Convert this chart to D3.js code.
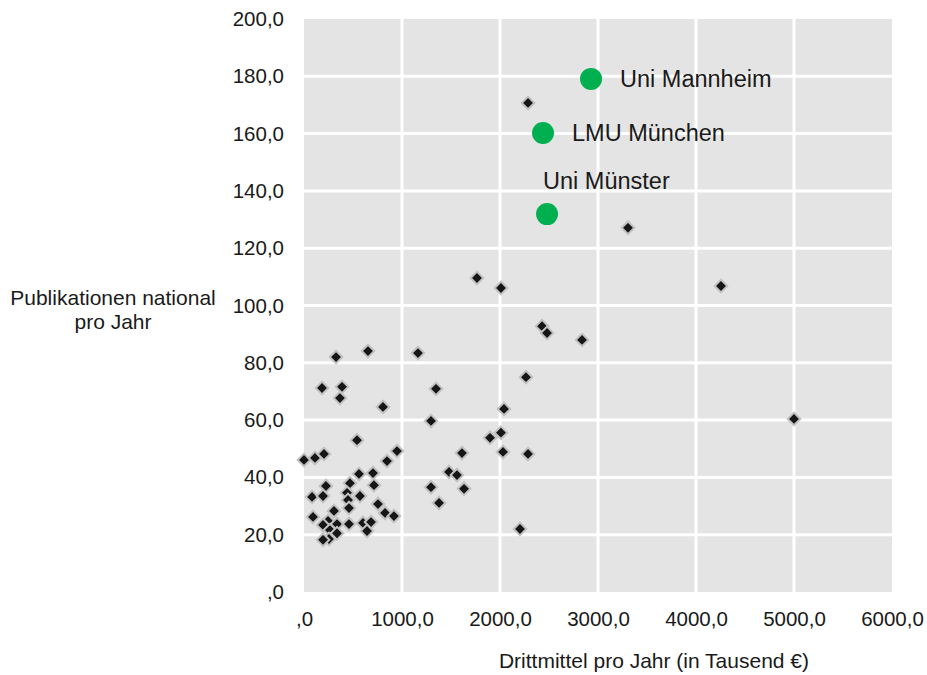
<!DOCTYPE html>
<html>
<head>
<meta charset="utf-8">
<script src="https://cdn.jsdelivr.net/npm/d3@7"></script>
<style>
body { margin: 0; background: #fff; }
text { font-family: "Liberation Sans", Arial, sans-serif; fill: #1a1a1a; }
</style>
</head>
<body>
<div id="chart"></div>
<script>
// Drittmittel (Tausend €) vs. Publikationen national pro Jahr
const drittmittel = [327, 653, 1163, 184, 388, 367, 806, 541, 1296, 1347,
  0, 112, 204, 847, 949, 1612, 1480, 1561, 1633, 1296, 1378,
  561, 704, 469, 714, 224, 82, 194, 439, 449, 571, 459, 755, 827, 918,
  306, 92, 245, 194, 337, 459, 602, 684, 643, 265, 255, 194, 337,
  2265, 2041, 1898, 2010, 2031, 2286, 2204,
  2286, 3306, 1765, 2010, 4255, 2429, 2480, 2837, 5000];
const publikationen = [82.0, 84.1, 83.4, 71.2, 71.6, 67.7, 64.6, 53.0, 59.7, 70.9,
  46.1, 46.8, 48.2, 45.7, 49.2, 48.5, 41.9, 40.8, 36.0, 36.6, 31.1,
  41.2, 41.5, 38.0, 37.3, 37.0, 33.2, 33.5, 34.6, 32.1, 33.5, 29.3, 30.7, 27.6, 26.5,
  28.3, 26.2, 24.8, 23.4, 23.7, 23.7, 24.1, 24.4, 21.3, 21.6, 18.5, 18.2, 20.5,
  75.0, 63.9, 53.8, 55.6, 48.9, 48.2, 22.0,
  170.7, 127.1, 109.6, 106.1, 106.8, 92.8, 90.4, 88.0, 60.4];

const hervorNamen = ["Uni Mannheim", "LMU München", "Uni Münster"];
const hervorX = [2929, 2439, 2480];
const hervorY = [179.1, 160.2, 131.9];

const xTicks = [0, 1000, 2000, 3000, 4000, 5000, 6000];
const yTicks = [0, 20, 40, 60, 80, 100, 120, 140, 160, 180, 200];

const W = 927, H = 675;
const margin = { top: 19, right: 35, bottom: 83, left: 304 };
const width = W - margin.left - margin.right,
      height = H - margin.top - margin.bottom;

const svg = d3.select("#chart").append("svg")
  .attr("width", W).attr("height", H);
const g = svg.append("g")
  .attr("transform", `translate(${margin.left},${margin.top})`);

const x = d3.scaleLinear().domain([0, 6000]).range([0, width]);
const y = d3.scaleLinear().domain([0, 200]).range([height, 0]);

// comma decimal, leading zero dropped like ",0"
const fmt = v => v === 0 ? ",0" : d3.format(".1f")(v).replace(".", ",");

g.append("rect")
  .attr("width", width).attr("height", height)
  .attr("fill", "#e4e4e4");

// grid
g.selectAll(".hgrid").data(yTicks.filter(d => d > 0 && d < 200))
  .enter().append("line")
  .attr("x1", 0).attr("x2", width)
  .attr("y1", d => y(d)).attr("y2", d => y(d))
  .attr("stroke", "#fff").attr("stroke-width", 3);
g.selectAll(".vgrid").data(xTicks.filter(d => d > 0 && d < 6000))
  .enter().append("line")
  .attr("y1", 0).attr("y2", height)
  .attr("x1", d => x(d)).attr("x2", d => x(d))
  .attr("stroke", "#fff").attr("stroke-width", 3);

// axes
const xAxis = g.append("g")
  .attr("transform", `translate(0,${height})`)
  .call(d3.axisBottom(x).tickValues(xTicks).tickFormat(fmt).tickSize(0).tickPadding(19));
const yAxis = g.append("g")
  .call(d3.axisLeft(y).tickValues(yTicks).tickFormat(fmt).tickSize(0).tickPadding(20));
[xAxis, yAxis].forEach(a => {
  a.select(".domain").remove();
  a.selectAll("text").style("font-size", "20.5px").attr("fill", "#1a1a1a")
    .style("font-family", "'Liberation Sans', Arial, sans-serif");
});

// diamonds
const pts = drittmittel.map((d, i) => ({ x: d, y: publikationen[i] }));
const sq = d3.symbol().type(d3.symbolSquare).size(80);
g.selectAll(".pt").data(pts).enter().append("path")
  .attr("d", sq)
  .attr("transform", d => `translate(${x(d.x)},${y(d.y)}) rotate(45)`)
  .attr("fill", "#161616")
  .attr("stroke", "#c2c2c2")
  .attr("stroke-width", 2);

// highlighted universities
const hv = hervorNamen.map((n, i) => ({ name: n, x: hervorX[i], y: hervorY[i] }));
g.selectAll(".hv").data(hv).enter().append("circle")
  .attr("cx", d => x(d.x)).attr("cy", d => y(d.y))
  .attr("r", 11).attr("fill", "#00b050");

g.selectAll(".hvl").data(hv).enter().append("text")
  .attr("x", (d, i) => i === 2 ? x(d.x) - 4 : x(d.x) + 29)
  .attr("y", (d, i) => i === 2 ? y(d.y) - 33 : y(d.y))
  .attr("dy", "0.35em")
  .style("font-size", "23.5px")
  .text(d => d.name);

// axis titles
svg.append("text")
  .attr("x", 654).attr("y", 668)
  .attr("text-anchor", "middle")
  .style("font-size", "21px")
  .text("Drittmittel pro Jahr (in Tausend €)");

const yt = svg.append("text")
  .attr("text-anchor", "middle")
  .style("font-size", "21px");
yt.append("tspan").attr("x", 113).attr("y", 305).text("Publikationen national");
yt.append("tspan").attr("x", 113).attr("y", 329).text("pro Jahr");
</script>
</body>
</html>
